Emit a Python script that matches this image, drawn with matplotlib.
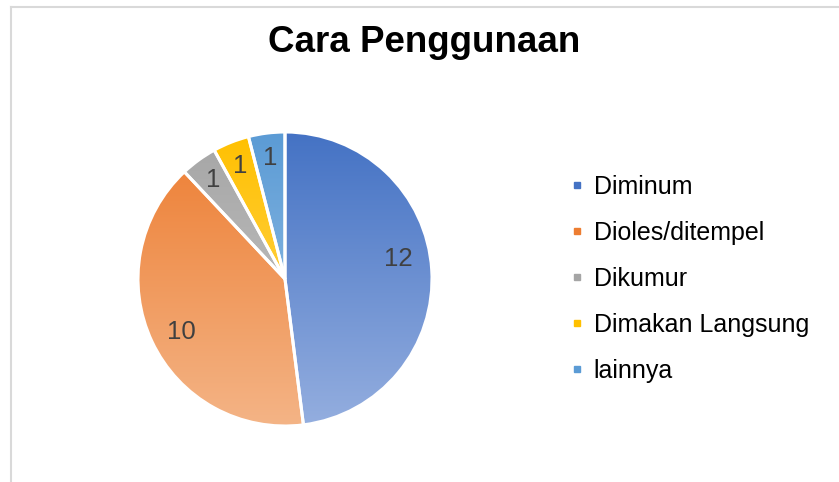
import numpy as np
import matplotlib
matplotlib.use("Agg")
import matplotlib.pyplot as plt
from matplotlib.colors import LinearSegmentedColormap
from matplotlib.lines import Line2D

labels = ["Diminum", "Dioles/ditempel", "Dikumur", "Dimakan Langsung", "lainnya"]
values = [12, 10, 1, 1, 1]
top_colors = ["#4472C4", "#ED7D31", "#A5A5A5", "#FFC000", "#5B9BD5"]
bottom_colors = ["#94AEDF", "#F4B486", "#CACACA", "#FFDA6B", "#A0C6E8"]

plt.rcParams['font.family'] = ['Liberation Sans', 'DejaVu Sans']

W, H = 839, 482
fig = plt.figure(figsize=(W / 100, H / 100), dpi=100)

# pie axes: centre (285, 279) px, radius 147 px
cx, cy, r = 285, 279, 147
ax = fig.add_axes([(cx - r) / W, (H - cy - r) / H, 2 * r / W, 2 * r / H])

total = sum(values)
wedges, texts, autotexts = ax.pie(
    values, startangle=90, counterclock=False, radius=1,
    wedgeprops=dict(edgecolor="white", linewidth=2.2),
    autopct=lambda p: "{:.0f}".format(p * total / 100),
    pctdistance=0.83,
    textprops=dict(fontsize=18.5, color="#404040"))
ax.set_xlim(-1, 1)
ax.set_ylim(-1, 1)
ax.set_aspect("equal")

# the big slice's label sits a bit higher (best-fit placement)
a = np.deg2rad(10)
autotexts[0].set_position((0.78 * np.cos(a), 0.78 * np.sin(a)))
autotexts[1].set_position((-0.79 * np.cos(np.deg2rad(27)), -0.79 * np.sin(np.deg2rad(27))))

# vertical gradient fill clipped to each wedge
grad = np.linspace(0, 1, 256).reshape(-1, 1)
for w, c0, c1 in zip(wedges, top_colors, bottom_colors):
    cmap = LinearSegmentedColormap.from_list("g", [c0, c1])
    im = ax.imshow(grad, cmap=cmap, extent=(-1, 1, -1, 1), origin="upper",
                   aspect="auto", zorder=1)
    im.set_clip_path(w)
    w.set_facecolor("none")
    w.set_zorder(2)
for t in autotexts:
    t.set_zorder(3)

fig.text(424 / W, 1 - 43 / H, "Cara Penggunaan", ha="center", va="center",
         fontsize=26.5, fontweight="bold", color="black")

handles = [Line2D([], [], linestyle="none", marker="s", markersize=5,
                  markerfacecolor=c, markeredgecolor=c) for c in top_colors]
fig.legend(handles, labels, loc="center left",
           bbox_to_anchor=(571 / W, 1 - 279 / H), frameon=False,
           fontsize=18, handlelength=0.5, handletextpad=0.4,
           labelspacing=0.88, borderpad=0, borderaxespad=0)

# chart area border (top and left visible)
fig.add_artist(Line2D([11 / W, 1], [1 - 7 / H, 1 - 7 / H], color="#d9d9d9",
                      linewidth=1.5, transform=fig.transFigure))
fig.add_artist(Line2D([11 / W, 11 / W], [0, 1 - 7 / H], color="#d9d9d9",
                      linewidth=1.5, transform=fig.transFigure))

fig.savefig("out.png", dpi=100)
